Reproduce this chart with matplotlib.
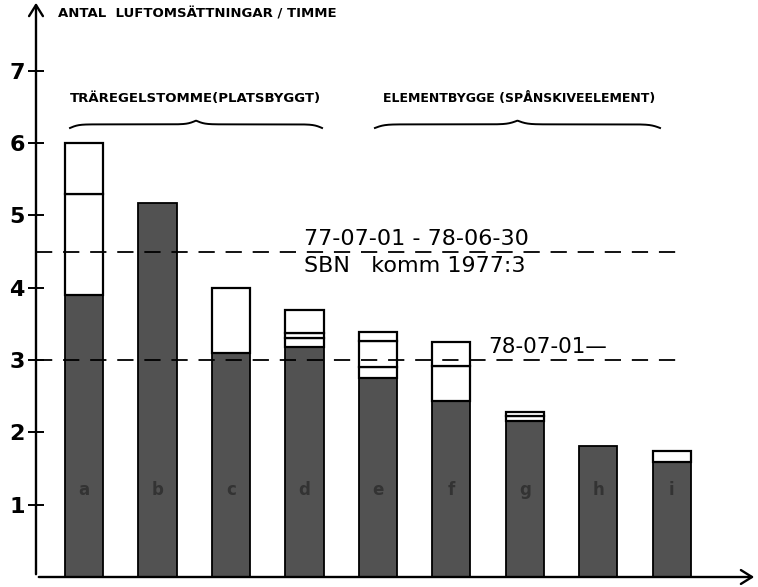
import numpy as np
import matplotlib
matplotlib.use("Agg")
import matplotlib.pyplot as plt

# bars a..i, stacked: dark part first, then the white boxes on top (cumulative tops)
labels = ["a", "b", "c", "d", "e", "f", "g", "h", "i"]
dark_top = [3.9, 5.17, 3.1, 3.18, 2.75, 2.43, 2.16, 1.81, 1.59]
white1_top = [5.3, None, 4.0, 3.3, 2.9, 2.92, 2.22, None, 1.74]
white2_top = [6.0, None, None, 3.37, 3.27, 3.25, 2.28, None, None]
white3_top = [None, None, None, 3.69, 3.39, None, None, None, None]

limit_old = 4.5   # 77-07-01 - 78-06-30
limit_new = 3.0   # 78-07-01 -
yticks = [1, 2, 3, 4, 5, 6, 7]

fig = plt.figure(figsize=(7.58, 5.87), dpi=100)
ax = fig.add_axes([36 / 758, 10 / 587, 721 / 758, 577 / 587])
x = np.arange(len(labels))
ax.set_xlim(-0.653, 9.16)
ax.set_ylim(0, 7.98)

w = 0.52
ax.bar(x, dark_top, width=w, color="#525252", edgecolor="black", lw=1.3, zorder=3)
prev = list(dark_top)
for level in [white1_top, white2_top, white3_top]:
    for i, top in enumerate(level):
        if top is None:
            continue
        ax.bar(x[i], top - prev[i], bottom=prev[i], width=w, color="white",
               edgecolor="black", lw=1.6, zorder=3)
        prev[i] = top

for i, lab in enumerate(labels):
    ax.text(x[i], 1.2, lab, ha="center", va="center", fontsize=12,
            fontweight="bold", color="#333333", zorder=4)

# limit lines
ax.axhline(limit_old, xmin=0, xmax=0.9, color="black", ls=(0, (9, 6)), lw=1.3, zorder=4)
ax.axhline(limit_new, xmin=0, xmax=0.9, color="black", ls=(0, (9, 6)), lw=1.3, zorder=4)
ax.text(3.0, limit_old + 0.04, "77-07-01 - 78-06-30", fontsize=16, va="bottom", ha="left")
ax.text(3.0, limit_old - 0.06, "SBN   komm 1977:3", fontsize=16, va="top", ha="left")
ax.text(5.5, limit_new + 0.04, "78-07-01—", fontsize=15.5, va="bottom", ha="left")


def brace(x0, x1, y, h):
    t = np.linspace(0, 0.5, 200)
    beta = 60.0
    yy = 1 / (1 + np.exp(-beta * (t - t[0]))) + 1 / (1 + np.exp(-beta * (t - t[-1])))
    yy = np.concatenate([yy, yy[::-1]])
    tt = np.linspace(x0, x1, len(yy))
    ax.plot(tt, y + h * (yy - 1.0), color="black", lw=1.4, clip_on=False)


brace(-0.19, 3.24, 6.26, 0.1)
brace(3.96, 7.84, 6.26, 0.1)
ax.text(1.52, 6.62, "TRÄREGELSTOMME(PLATSBYGGT)", fontsize=9.5, fontweight="bold",
        ha="center", va="center")
ax.text(5.92, 6.62, "ELEMENTBYGGE (SPÅNSKIVEELEMENT)", fontsize=9, fontweight="bold",
        ha="center", va="center")
ax.text(-0.36, 7.78, "ANTAL  LUFTOMSÄTTNINGAR / TIMME", fontsize=9.5, fontweight="bold",
        ha="left", va="center")

# axes with arrows
for s in ax.spines.values():
    s.set_visible(False)
ax.annotate("", xy=(0, 1.0), xytext=(0, 0), xycoords="axes fraction",
            arrowprops=dict(arrowstyle="->,head_length=0.8,head_width=0.5", lw=1.7, color="black"))
ax.annotate("", xy=(1.0, 0), xytext=(0, 0), xycoords="axes fraction",
            arrowprops=dict(arrowstyle="->,head_length=0.8,head_width=0.5", lw=1.7, color="black"))

ax.set_xticks([])
ax.set_yticks(yticks)
ax.set_yticklabels([str(v) for v in yticks], fontsize=16, fontweight="bold")
ax.tick_params(axis="y", direction="inout", length=12, width=1.4, pad=2)

fig.savefig("out.png", dpi=100)
